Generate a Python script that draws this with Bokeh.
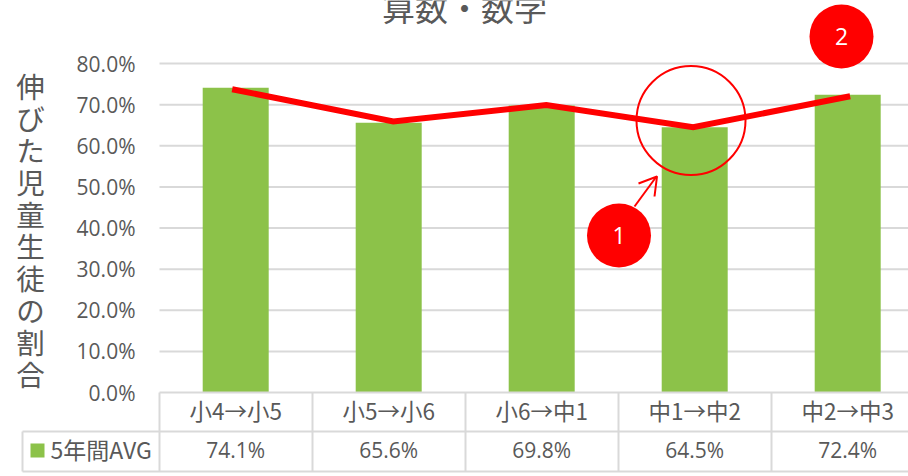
from bokeh.plotting import figure
from bokeh.embed import file_html
from bokeh.resources import INLINE
from bokeh.models import Range1d, LinearAxis, FixedTicker
from bokeh.core.properties import value

categories = ["小4→小5", "小5→小6", "小6→中1", "中1→中2", "中2→中3"]
avg_values = [74.1, 65.6, 69.8, 64.5, 72.4]
avg_labels = ["74.1%", "65.6%", "69.8%", "64.5%", "72.4%"]
trend_positions = [-0.023, 1.03, 2.03, 2.99, 4.016]
trend_values = [73.75, 65.9, 69.9, 64.5, 72.05]
y_ticks = [0, 10, 20, 30, 40, 50, 60, 70, 80]
y_tick_labels = ["0.0%", "10.0%", "20.0%", "30.0%", "40.0%", "50.0%", "60.0%", "70.0%", "80.0%"]
y_title = "伸びた児童生徒の割合"
chart_title = "算数・数学"
legend_name = "5年間AVG"

W, H = 908, 476
CAT = 153.0
X0 = 235.2
PCT = 329.0 / 80
Y0 = 392.0
GREY = "#d9d9d9"
TXT = "#595959"
RED = "#ff0000"
GREEN = "#8cc249"
CJK = value("Noto Sans CJK JP")
LAT = value("Open Sans")

def dx(s):
    return (s - X0) / CAT

def dy(s):
    return (Y0 - s) / PCT

p = figure(width=W, height=H, output_backend="svg", toolbar_location=None,
           x_axis_type=None, y_axis_type=None,
           x_range=Range1d(dx(0), dx(W)), y_range=Range1d(dy(H), dy(0)),
           min_border=0, outline_line_color=None)
p.grid.visible = False

# gridlines
grid_y = [t for t in y_ticks if t > 0]
p.segment([dx(159)] * len(grid_y), grid_y, [dx(W)] * len(grid_y), grid_y,
          line_color=GREY, line_width=2)

# bars
p.vbar(x=list(range(len(categories))), top=avg_values, bottom=0, width=66 / CAT,
       fill_color=GREEN, line_color=None)

# table
h_y = [392, 431, 471]
p.segment([dx(159), dx(22), dx(22)], [dy(v) for v in h_y], [dx(W)] * 3, [dy(v) for v in h_y],
          line_color=GREY, line_width=2)
v_x = [22, 159, 312, 465, 618, 771]
v_top = [431, 392, 392, 392, 392, 392]
p.segment([dx(v) for v in v_x], [dy(v) for v in v_top], [dx(v) for v in v_x], [dy(471)] * 6,
          line_color=GREY, line_width=2)

# table values and legend
p.text(x=list(range(len(categories))), y=[dy(449)] * 5, text=avg_labels, text_font=LAT,
       text_font_size="21px", text_color=TXT, text_align="center", text_baseline="middle")
p.quad(left=[dx(30)], right=[dx(44)], top=[dy(443)], bottom=[dy(457)], fill_color=GREEN, line_color=None)
p.text(x=[dx(50)], y=[dy(448)], text=[legend_name], text_font=CJK, text_font_size="23px",
       text_color=TXT, text_align="left", text_baseline="middle")

# trend line
p.line(trend_positions, trend_values, line_color=RED, line_width=6, line_join="miter", line_cap="butt")

# annotations
p.circle(x=[dx(690.5)], y=[dy(120)], radius=[54.5], radius_units="screen",
         fill_color=None, line_color=RED, line_width=2)
p.line([dx(634), dx(656)], [dy(206), dy(176)], line_color=RED, line_width=2)
p.line([dx(638), dx(656.5), dx(654)], [dy(183), dy(176), dy(196)], line_color=RED, line_width=2)
p.circle(x=[dx(618.5), dx(841)], y=[dy(235), dy(36)], radius=[32, 32], radius_units="screen",
         fill_color=RED, line_color=None)
p.text(x=[dx(618.5), dx(841)], y=[dy(235), dy(36)], text=["1", "2"], text_font=LAT, text_font_size="23px",
       text_color="#ffffff", text_align="center", text_baseline="middle")

# titles
p.text(x=[dx(464)], y=[dy(6)], text=[chart_title], text_font=CJK, text_font_size="33px",
       text_color=TXT, text_align="center", text_baseline="middle")
p.text(x=[dx(30)] * len(y_title), y=[dy(85 + 32 * i) for i in range(len(y_title))], text=list(y_title),
       text_font=CJK, text_font_size="28.5px", text_color=TXT, text_align="center", text_baseline="middle")

# axes
ya = LinearAxis(ticker=FixedTicker(ticks=y_ticks), fixed_location=dx(159),
                major_label_overrides={t: l for t, l in zip(y_ticks, y_tick_labels)},
                axis_line_color=None, major_tick_line_color=None, minor_tick_line_color=None,
                major_label_text_color=TXT, major_label_text_font="Open Sans",
                major_label_text_font_size="21px", major_label_standoff=18)
p.add_layout(ya, "left")
xa = LinearAxis(ticker=FixedTicker(ticks=list(range(len(categories)))), fixed_location=0,
                major_label_overrides={i: c for i, c in enumerate(categories)},
                axis_line_color=None, major_tick_line_color=None, minor_tick_line_color=None,
                major_label_text_color=TXT, major_label_text_font="Noto Sans CJK JP",
                major_label_text_font_size="22.5px", major_label_standoff=-5)
p.add_layout(xa, "below")

open("out.html", "w").write(file_html(p, INLINE))
